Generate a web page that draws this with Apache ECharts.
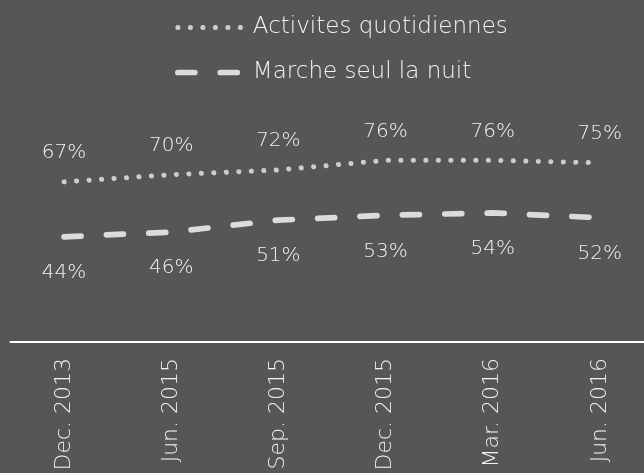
<!DOCTYPE html>
<html>
<head>
<meta charset="utf-8">
<script src="https://cdn.jsdelivr.net/npm/echarts@6/dist/echarts.min.js"></script>
<style>
html,body{margin:0;padding:0;background:#565656;}
#c{width:644px;height:473px;}
</style>
</head>
<body>
<div id="c"></div>
<script>
const categories = ['Dec. 2013', 'Jun. 2015', 'Sep. 2015', 'Dec. 2015', 'Mar. 2016', 'Jun. 2016'];
const seriesNames = ['Activites quotidiennes', 'Marche seul la nuit'];
const activites = [67, 70, 72, 76, 76, 75];
const marche = [44, 46, 51, 53, 54, 52];

const FONT = '"DejaVu Sans", sans-serif';
const W = 300;
const dotStyle = { color: '#cdcdcd', width: 5, type: [0.1, 12.4], cap: 'round' };
const dashStyle = { color: '#dcdcdc', width: 5.7, type: [17, 25.4], cap: 'round' };
const chart = echarts.init(document.getElementById('c'));
chart.setOption({
  backgroundColor: '#565656',
  animation: false,
  legend: {
    orient: 'vertical',
    left: 170,
    top: 11,
    itemWidth: 70,
    itemHeight: 14,
    itemGap: 22,
    itemStyle: { opacity: 0 },
    textStyle: { color: '#f2f2f2', fontSize: 23, fontFamily: FONT, fontWeight: W },
    data: [
      { name: seriesNames[0], lineStyle: dotStyle, itemStyle: { opacity: 0 } },
      { name: seriesNames[1], lineStyle: dashStyle, itemStyle: { opacity: 0 } }
    ]
  },
  grid: { left: 10.5, right: -9.4, top: 103, bottom: 131, containLabel: false, outerBoundsMode: 'none' },
  xAxis: {
    type: 'category',
    data: categories,
    boundaryGap: true,
    axisLine: { show: true, lineStyle: { color: '#ffffff', width: 2 } },
    axisTick: { show: false },
    axisLabel: { rotate: 90, margin: 16, color: '#f2f2f2', fontSize: 22, fontFamily: FONT, fontWeight: W, interval: 0 }
  },
  yAxis: {
    type: 'value', min: 0, max: 100, show: false,
    splitLine: { show: false }
  },
  series: [
    {
      name: seriesNames[0],
      type: 'line',
      data: activites,
      symbol: 'circle',
      symbolSize: 0,
      showSymbol: true,
      color: '#cdcdcd',
      lineStyle: dotStyle,
      label: {
        show: true, position: 'top', distance: 19,
        formatter: p => p.value + '%',
        color: '#f2f2f2', fontSize: 20, fontFamily: FONT, fontWeight: W
      }
    },
    {
      name: seriesNames[1],
      type: 'line',
      data: marche,
      symbol: 'circle',
      symbolSize: 0,
      showSymbol: true,
      color: '#dcdcdc',
      lineStyle: dashStyle,
      label: {
        show: true, position: 'bottom', distance: 26,
        formatter: p => p.value + '%',
        color: '#f2f2f2', fontSize: 20, fontFamily: FONT, fontWeight: W
      }
    }
  ]
});
</script>
</body>
</html>
